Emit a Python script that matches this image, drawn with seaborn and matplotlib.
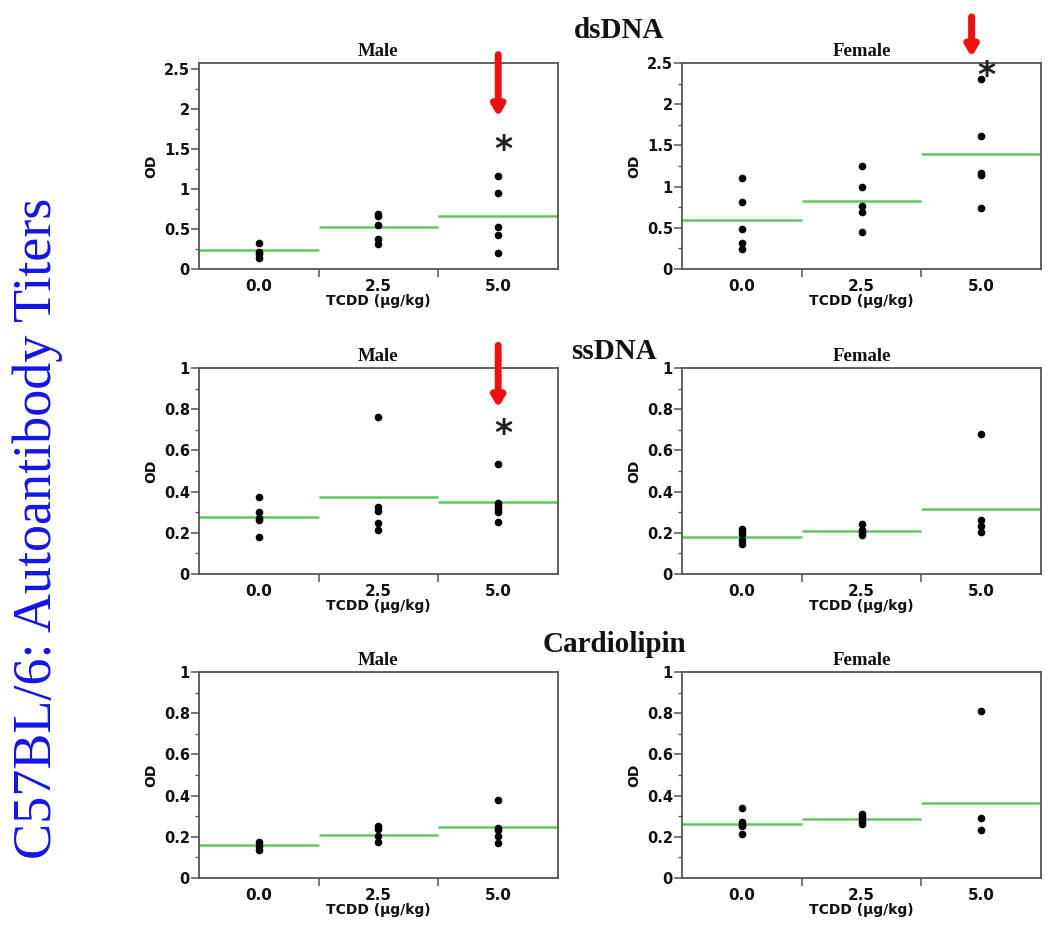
import numpy as np
import pandas as pd
import seaborn as sns
import matplotlib.pyplot as plt
from matplotlib.ticker import FuncFormatter, AutoMinorLocator, FixedLocator

DOSES = ["0.0", "2.5", "5.0"]

# OD values, per antibody / sex / dose
DS_MALE = {"0.0": [0.32, 0.21, 0.19, 0.14],
           "2.5": [0.69, 0.66, 0.55, 0.38, 0.31],
           "5.0": [1.16, 0.95, 0.525, 0.43, 0.20]}
DS_FEMALE = {"0.0": [1.10, 0.81, 0.49, 0.31, 0.24],
             "2.5": [1.25, 0.99, 0.77, 0.69, 0.45],
             "5.0": [2.30, 1.61, 1.17, 1.14, 0.74]}
SS_MALE = {"0.0": [0.373, 0.303, 0.274, 0.263, 0.182],
           "2.5": [0.76, 0.325, 0.305, 0.25, 0.213],
           "5.0": [0.532, 0.344, 0.332, 0.316, 0.30, 0.252]}
SS_FEMALE = {"0.0": [0.22, 0.207, 0.196, 0.167, 0.146],
             "2.5": [0.244, 0.215, 0.202, 0.19],
             "5.0": [0.68, 0.264, 0.235, 0.204]}
CL_MALE = {"0.0": [0.175, 0.157, 0.138],
           "2.5": [0.251, 0.24, 0.203, 0.175],
           "5.0": [0.381, 0.241, 0.232, 0.203, 0.17]}
CL_FEMALE = {"0.0": [0.341, 0.272, 0.26, 0.252, 0.215],
             "2.5": [0.312, 0.298, 0.285, 0.272, 0.26],
             "5.0": [0.813, 0.293, 0.231]}

# group means (green lines) as drawn
DS_MALE_MEAN = [0.24, 0.52, 0.66]
DS_FEMALE_MEAN = [0.59, 0.83, 1.40]
SS_MALE_MEAN = [0.279, 0.373, 0.35]
SS_FEMALE_MEAN = [0.178, 0.21, 0.317]
CL_MALE_MEAN = [0.162, 0.21, 0.248]
CL_FEMALE_MEAN = [0.26, 0.285, 0.363]

# significance markers: (dose, asterisk y, arrow tip y, arrow top y)
DS_MALE_SIG = ("5.0", 1.49, 1.90, 2.68)
DS_FEMALE_SIG = ("5.0", 2.34, 2.57, 3.06)
SS_MALE_SIG = ("5.0", 0.678, 0.806, 1.11)


def to_frame(groups):
    rows = [(d, v) for d in DOSES for v in groups[d]]
    return pd.DataFrame(rows, columns=["dose", "od"])


def fmt_y(v, pos):
    return f"{v:g}"


def draw_panel(ax, groups, means, ymax, ystep, title, sig=None, sig_dx=0.0):
    df = to_frame(groups)
    sns.stripplot(data=df, x="dose", y="od", order=DOSES, jitter=False,
                  color="black", size=5.5, ax=ax, zorder=3)
    for i, m in enumerate(means):
        ax.hlines(m, i - 0.5, i + 0.5, color="#62c662", lw=1.8, zorder=2)
    ax.set_xlim(-0.5, 2.5)
    ax.set_ylim(0, ymax)
    ax.set_yticks(np.arange(0, ymax + 1e-6, ystep))
    ax.yaxis.set_major_formatter(FuncFormatter(fmt_y))
    ax.yaxis.set_minor_locator(AutoMinorLocator(2))
    # x ticks at category borders, labels at centers
    ax.xaxis.set_major_locator(FixedLocator([0.5, 1.5]))
    ax.xaxis.set_minor_locator(FixedLocator([0, 1, 2]))
    ax.set_xticklabels([])
    ax.set_xticklabels(DOSES, minor=True)
    ax.tick_params(axis="both", which="both", left=True, bottom=True,
                   direction="out", color="#555555", labelcolor="#111111")
    ax.tick_params(axis="y", which="minor", length=3, width=0.9)
    ax.tick_params(axis="y", which="major", length=5.5, width=1.1,
                   labelsize=10.5, pad=1)
    ax.tick_params(axis="x", which="major", length=5.5, width=1.1)
    ax.tick_params(axis="x", which="minor", length=0, labelsize=11, pad=7)
    for lab in ax.get_yticklabels() + ax.get_xticklabels(minor=True):
        lab.set_fontweight("bold")
    ax.set_xlabel("TCDD (µg/kg)", fontsize=10, fontweight="bold", labelpad=0,
                  color="#111111")
    ax.set_ylabel("OD", fontsize=10, fontweight="bold", labelpad=4, color="#111111")
    ax.set_title(title, fontsize=13.5, fontweight="bold", family="Liberation Serif",
                 pad=5, color="#111111")
    for s in ax.spines.values():
        s.set_visible(True)
        s.set_color("#555555")
        s.set_linewidth(1.3)
    if sig is not None:
        dose, ast_y, tip_y, top_y = sig
        xi = DOSES.index(dose)
        ax.annotate("", xy=(xi + sig_dx, tip_y), xytext=(xi + sig_dx, top_y),
                    xycoords="data", textcoords="data", annotation_clip=False,
                    arrowprops=dict(arrowstyle="-|>,head_width=0.35,head_length=0.6",
                                    color="#ee1111", lw=5, shrinkA=0, shrinkB=0),
                    zorder=5)
        ax.text(xi + 0.04, ast_y, "*", ha="center", va="center", fontsize=25,
                fontweight="bold", color="#222222", clip_on=False, zorder=6)


sns.set_style("white")
fig = plt.figure(figsize=(10.5, 9.35), dpi=100)

W = 359 / 1050
H = 206 / 935
LEFT_M = 199 / 1050
LEFT_F = 682 / 1050
rows_bottom = [(935 - 269) / 935, (935 - 574) / 935, (935 - 878) / 935]

panels = [
    (DS_MALE, DS_MALE_MEAN, 2.575, 0.5, DS_MALE_SIG, 0.0),
    (DS_FEMALE, DS_FEMALE_MEAN, 2.5, 0.5, DS_FEMALE_SIG, -0.08),
    (SS_MALE, SS_MALE_MEAN, 1.0, 0.2, SS_MALE_SIG, 0.0),
    (SS_FEMALE, SS_FEMALE_MEAN, 1.0, 0.2, None, 0.0),
    (CL_MALE, CL_MALE_MEAN, 1.0, 0.2, None, 0.0),
    (CL_FEMALE, CL_FEMALE_MEAN, 1.0, 0.2, None, 0.0),
]

for k, (groups, means, ymax, ystep, sig, dx) in enumerate(panels):
    r, c = divmod(k, 2)
    left = LEFT_M if c == 0 else LEFT_F
    ax = fig.add_axes([left, rows_bottom[r], W, H])
    draw_panel(ax, groups, means, ymax, ystep, "Male" if c == 0 else "Female", sig, dx)

section_titles = ["dsDNA", "ssDNA", "Cardiolipin"]
section_y = [30, 351, 645]
section_x = [619, 614, 615]
for t, x, y in zip(section_titles, section_x, section_y):
    fig.text(x / 1050, 1 - y / 935, t, ha="center", va="center", fontsize=21,
             fontweight="bold", family="Liberation Serif", color="#111111")

fig.text(38 / 1050, 1 - 528 / 935, "C57BL/6: Autoantibody Titers", rotation=90,
         ha="center", va="center", fontsize=39, color="#1414e6",
         family="Liberation Serif")

fig.savefig("out.png", dpi=100)
